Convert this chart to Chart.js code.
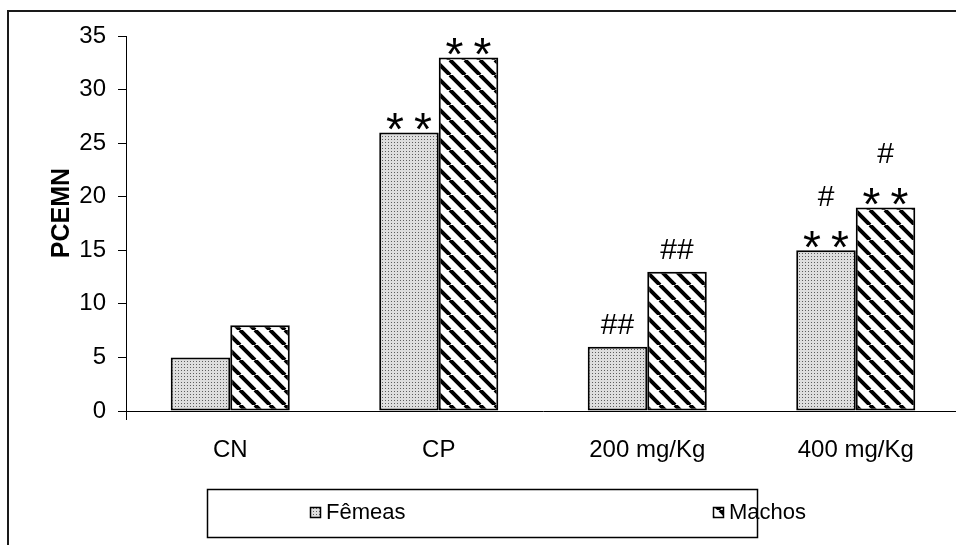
<!DOCTYPE html>
<html>
<head>
<meta charset="utf-8">
<script src="https://cdn.jsdelivr.net/npm/chart.js@4.4.0/dist/chart.umd.min.js"></script>
<style>
    html, body { margin: 0; padding: 0; background: #fff; overflow: hidden; }
    #wrap { width: 956px; height: 545px; overflow: hidden; position: relative; }
    #wrap canvas { position: absolute; left: 0; top: 0; }
</style>
</head>
<body>
<div id="wrap"><canvas id="pcemnChart" width="962" height="545"></canvas></div>
<script>
// data
const categories = ['CN', 'CP', '200 mg/Kg', '400 mg/Kg'];
const femeas = [5, 26, 6, 15];
const machos = [8, 33, 13, 19];
// significance marks above each bar (bottom line first)
const femeasMarks = [[], ['**'], ['##'], ['**', '#']];
const machosMarks = [[], ['**'], ['##'], ['**', '#']];
const yMin = 0, yMax = 35, yStep = 5;

const FONT = '"Liberation Sans", Arial, sans-serif';
const ctx = document.getElementById('pcemnChart').getContext('2d');

function dotPattern() {
    const c = document.createElement('canvas');
    c.width = 3; c.height = 3;
    const g = c.getContext('2d');
    g.fillStyle = '#dedede';
    g.fillRect(0, 0, 3, 3);
    g.fillStyle = '#5e5e5e';
    g.fillRect(1, 1, 1, 1);
    return ctx.createPattern(c, 'repeat');
}

function hatchPattern() {
    const s = 15;
    const c = document.createElement('canvas');
    c.width = s; c.height = s;
    const g = c.getContext('2d');
    g.fillStyle = '#fff';
    g.fillRect(0, 0, s, s);
    g.strokeStyle = '#000';
    g.lineWidth = 4;
    g.beginPath();
    for (const o of [-s, 0, s]) {
        g.moveTo(o, 0);
        g.lineTo(o + s, s);
    }
    g.stroke();
    return ctx.createPattern(c, 'repeat');
}

const dots = dotPattern();
const hatch = hatchPattern();

const decorPlugin = {
    id: 'decor',
    beforeDraw(chart) {
        const c = chart.ctx;
        c.save();
        c.strokeStyle = '#1a1a1a';
        c.lineWidth = 2;
        c.beginPath();
        c.moveTo(8, 545);
        c.lineTo(8, 11);
        c.lineTo(962, 11);
        c.stroke();
        c.restore();
    },
    afterDatasetsDraw(chart) {
        const c = chart.ctx;
        const marks = [femeasMarks, machosMarks];
        c.save();
        c.fillStyle = '#000';
        c.textAlign = 'center';
        chart.data.datasets.forEach((ds, i) => {
            chart.getDatasetMeta(i).data.forEach((bar, j) => {
                let bottom = bar.y;
                marks[i][j].forEach((m, k) => {
                    if (m === '**') {
                        c.font = '46px ' + FONT;
                        const mt = c.measureText('*');
                        bottom -= k === 0 ? 2 : 25;
                        const base = bottom - mt.actualBoundingBoxDescent;
                        c.fillText('*', bar.x - 14, base);
                        c.fillText('*', bar.x + 14, base);
                        bottom = base - mt.actualBoundingBoxAscent;
                    } else {
                        c.font = '30px ' + FONT;
                        const mt = c.measureText(m);
                        bottom -= k === 0 ? 13 : 25;
                        const base = bottom - mt.actualBoundingBoxDescent;
                        c.fillText(m, bar.x, base);
                        bottom = base - mt.actualBoundingBoxAscent;
                    }
                });
            });
        });
        c.restore();
    },
    afterDraw(chart) {
        const c = chart.ctx;
        const area = chart.chartArea;
        c.save();
        // small tick below the origin
        c.strokeStyle = '#000';
        c.lineWidth = 1;
        c.beginPath();
        c.moveTo(Math.round(area.left) + 0.5, area.bottom);
        c.lineTo(Math.round(area.left) + 0.5, area.bottom + 9);
        c.stroke();

        // y axis title
        c.font = 'bold 25px ' + FONT;
        c.textAlign = 'center';
        c.textBaseline = 'middle';
        c.translate(62, 213);
        c.rotate(-Math.PI / 2);
        c.fillText('PCEMN', 0, 0);
        c.setTransform(1, 0, 0, 1, 0, 0);

        // legend box
        c.lineWidth = 1.5;
        c.strokeRect(207.5, 489.5, 550, 48);
        const items = [
            { x: 310, fill: dots, label: chart.data.datasets[0].label },
            { x: 713, fill: hatch, label: chart.data.datasets[1].label }
        ];
        c.font = '22px ' + FONT;
        c.textAlign = 'left';
        c.textBaseline = 'middle';
        items.forEach(it => {
            c.fillStyle = it.fill;
            c.fillRect(it.x, 507, 11, 11);
            c.lineWidth = 1.5;
            c.strokeStyle = '#000';
            c.strokeRect(it.x + 0.5, 507.5, 10, 10);
            c.fillStyle = '#000';
            c.fillText(it.label, it.x + 16, 513);
        });
        c.restore();
    }
};

const pcemnChart = new Chart(ctx, {
    type: 'bar',
    data: {
        labels: categories,
        datasets: [{
            label: 'Fêmeas',
            data: femeas,
            backgroundColor: dots,
            borderColor: '#000',
            borderWidth: 2,
            borderSkipped: false
        }, {
            label: 'Machos',
            data: machos,
            backgroundColor: hatch,
            borderColor: '#000',
            borderWidth: 2,
            borderSkipped: false
        }]
    },
    options: {
        responsive: false,
        animation: false,
        events: [],
        categoryPercentage: 0.571,
        barPercentage: 1,
        layout: {
            padding: { top: 36, right: 2, left: 0, bottom: 0 }
        },
        plugins: {
            legend: { display: false },
            tooltip: { enabled: false }
        },
        scales: {
            x: {
                grid: { display: false, drawTicks: false },
                border: { display: true, color: '#000', width: 1 },
                ticks: {
                    color: '#000',
                    padding: 25,
                    maxRotation: 0,
                    font: { family: FONT, size: 24 }
                },
                afterFit: function (scale) { scale.height = 134; }
            },
            y: {
                min: yMin,
                max: yMax,
                grid: {
                    drawOnChartArea: false,
                    tickLength: 8,
                    color: '#000'
                },
                border: { display: true, color: '#000', width: 1 },
                ticks: {
                    stepSize: yStep,
                    color: '#000',
                    padding: 12,
                    font: { family: FONT, size: 24 }
                },
                afterFit: function (scale) { scale.width = 126; }
            }
        }
    },
    plugins: [decorPlugin]
});
</script>
</body>
</html>
